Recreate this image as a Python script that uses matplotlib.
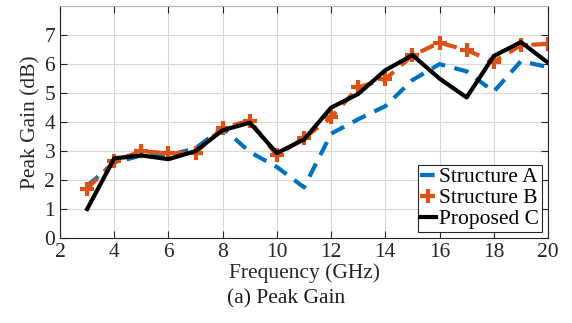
import matplotlib
matplotlib.use('Agg')
import matplotlib.pyplot as plt
import numpy as np

plt.rcParams['font.family'] = ['Liberation Serif', 'DejaVu Serif']
plt.rcParams['mathtext.fontset'] = 'stix'

# frequency points (GHz)
freq = [3, 4, 5, 6, 7, 8, 9, 10, 11, 12, 13, 14, 15, 16, 17, 18, 19, 20]

# peak gain values (dB)
gain_A = [1.8, 2.6, 2.85, 2.85, 3.1, 3.8, 2.97, 2.45, 1.75, 3.6, 4.1, 4.55, 5.45, 6.0, 5.75, 5.05, 6.1, 5.9]
gain_B = [1.7, 2.65, 3.0, 2.92, 2.95, 3.8, 4.05, 2.85, 3.45, 4.16, 5.2, 5.48, 6.3, 6.74, 6.48, 6.08, 6.65, 6.7]
gain_C = [1.0, 2.75, 2.85, 2.72, 3.0, 3.72, 3.98, 2.93, 3.4, 4.5, 4.97, 5.79, 6.31, 5.5, 4.85, 6.28, 6.76, 6.05]

xticks = [2, 4, 6, 8, 10, 12, 14, 16, 18, 20]
yticks = [0, 1, 2, 3, 4, 5, 6, 7]

fs = 15.5

fig = plt.figure(figsize=(5.72, 3.23), dpi=100)
ax = fig.add_axes([0.105, 0.263, 0.853, 0.718])

ax.plot(freq, gain_A, color='#0072BD', lw=3.0, dashes=(3.5, 2.3), label='Structure A')
ax.plot(freq, gain_B, color='#D95319', lw=3.0, dashes=(3.5, 2.3), marker='+',
        markersize=10, markeredgewidth=3.0, label='Structure B')
ax.plot(freq, gain_C, color='black', lw=3.0, label='Proposed C')

ax.set_xlim(2, 20)
ax.set_ylim(0, 8)
ax.set_xticks(xticks)
ax.set_yticks(yticks)
ax.grid(True, color='0.85', lw=0.8)
ax.set_axisbelow(True)
ax.tick_params(direction='in', top=True, right=True, labelsize=fs, colors='0.15', length=5)
for sp in ax.spines.values():
    sp.set_color('0.15')
    sp.set_linewidth(0.8)
ax.spines['top'].set_color('0.7')

ax.set_xlabel('Frequency (GHz)', fontsize=fs, color='0.15', labelpad=1)
ax.set_ylabel('Peak Gain (dB)', fontsize=fs, color='0.15', labelpad=3)

leg = ax.legend(loc='lower right', fontsize=fs, handlelength=0.75, handletextpad=0.15,
                borderpad=0.1, labelspacing=0.05, borderaxespad=0.3, fancybox=False,
                framealpha=1)
leg.get_frame().set_edgecolor('0.15')
leg.get_frame().set_linewidth(0.8)

fig.text(0.5, 0.075, '(a) Peak Gain', ha='center', va='center', fontsize=fs, color='0.1')

fig.savefig('out.png', dpi=100)
